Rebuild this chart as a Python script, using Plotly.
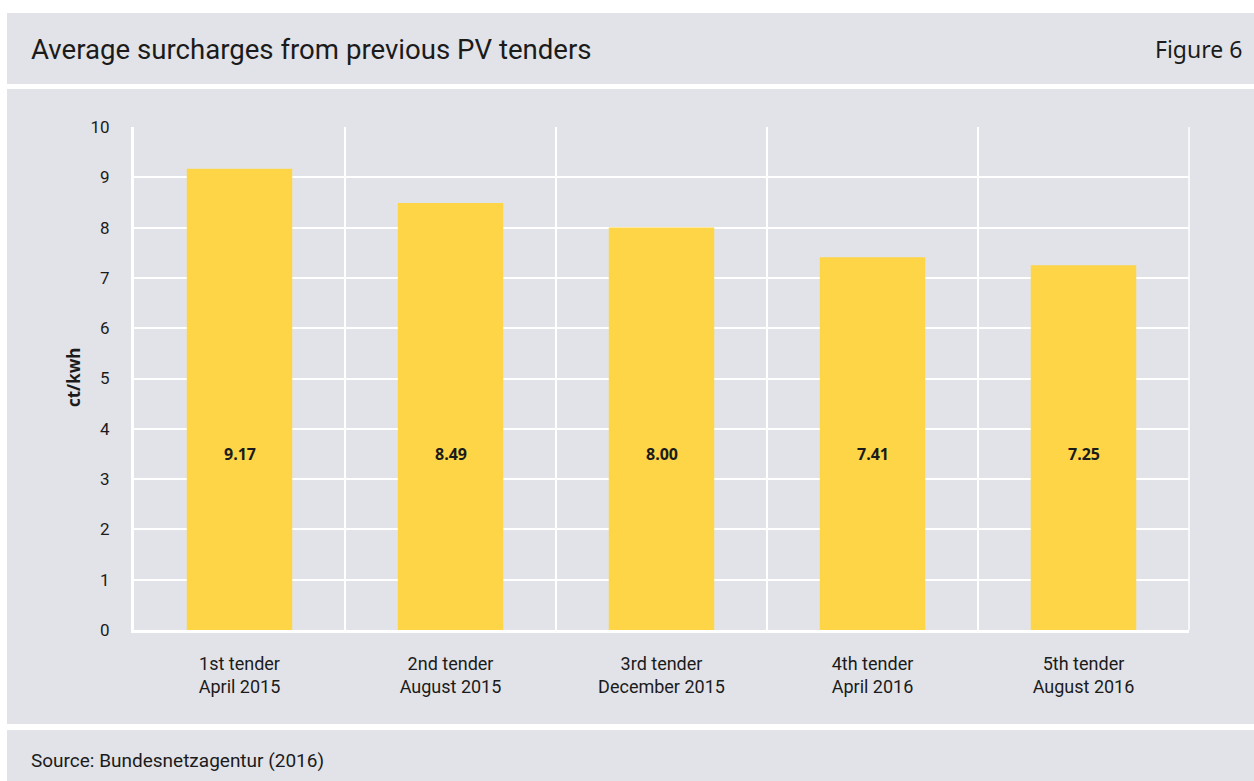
import plotly.graph_objects as go

# data
tenders = ["1st tender", "2nd tender", "3rd tender", "4th tender", "5th tender"]
dates = ["April 2015", "August 2015", "December 2015", "April 2016", "August 2016"]
surcharges = [9.17, 8.49, 8.00, 7.41, 7.25]
value_labels = ["9.17", "8.49", "8.00", "7.41", "7.25"]
y_ticks = [0, 1, 2, 3, 4, 5, 6, 7, 8, 9, 10]

W, H = 1254, 781
# plot area in pixels
L, R, T, B = 134, 1189, 127, 630
PANEL = "#e2e3e8"
BAR = "#fdd546"
TXT = "#1b1b1b"
FONT = "Roboto"
BOLD = "Open Sans"

categories = [f"{t}<br>{d}" for t, d in zip(tenders, dates)]


# pixel -> paper coordinates (paper is the plot area)
def px_x(v):
    return (v - L) / (R - L)


def px_y(v):
    return (B - v) / (B - T)


fig = go.Figure()
fig.add_trace(go.Bar(
    x=categories,
    y=surcharges,
    marker=dict(color=BAR, line=dict(width=0)),
    width=0.5,
    hoverinfo="x+y",
))

# value labels sit at a fixed height inside the bars
for c, lab in zip(categories, value_labels):
    fig.add_annotation(x=c, y=3.5, text=f"<b>{lab}</b>", showarrow=False,
                       font=dict(family=BOLD, size=16, color=TXT))

# grey background bands
bands = [(13, 84), (89, 724), (730, 790)]
shapes = []
for y0, y1 in bands:
    shapes.append(dict(type="rect", xref="paper", yref="paper",
                       x0=px_x(7), x1=px_x(W + 5), y0=px_y(y1), y1=px_y(y0),
                       fillcolor=PANEL, line=dict(width=0), layer="below"))
# right frame line of the plot area
shapes.append(dict(type="line", xref="paper", yref="paper", x0=1, x1=1, y0=0, y1=1,
                   line=dict(color="white", width=1.5), layer="below"))

annotations = [
    dict(text="Average surcharges from previous PV tenders", xref="paper", yref="paper",
         x=px_x(29), y=px_y(49), xanchor="left", yanchor="middle", showarrow=False,
         font=dict(family=FONT, size=27.6, color=TXT)),
    dict(text="Figure 6", xref="paper", yref="paper",
         x=px_x(1244), y=px_y(49), xanchor="right", yanchor="middle", showarrow=False,
         font=dict(family="Noto Sans", size=23, color=TXT)),
    dict(text="Source: Bundesnetzagentur (2016)", xref="paper", yref="paper",
         x=px_x(29), y=px_y(761), xanchor="left", yanchor="middle", showarrow=False,
         font=dict(family=FONT, size=19, color=TXT)),
    dict(text="<b>ct/kwh</b>", xref="paper", yref="paper", textangle=-90,
         x=px_x(73), y=px_y(378), xanchor="center", yanchor="middle", showarrow=False,
         font=dict(family=BOLD, size=17, color=TXT)),
]

fig.update_layout(
    width=W, height=H,
    autosize=False,
    margin=dict(l=L, r=W - R, t=T, b=H - B, pad=0),
    paper_bgcolor="white",
    plot_bgcolor="rgba(0,0,0,0)",
    showlegend=False,
    shapes=shapes,
    annotations=list(fig.layout.annotations) + annotations,
    xaxis=dict(
        type="category",
        tickson="boundaries",
        automargin=False,
        showgrid=True, gridcolor="white", gridwidth=1.5,
        showline=True, linecolor="white", linewidth=3,
        ticks="", ticklabelstandoff=15,
        tickfont=dict(family=FONT, size=18, color=TXT),
        fixedrange=True,
    ),
    yaxis=dict(
        range=[0, 10],
        tickvals=y_ticks,
        automargin=False,
        showgrid=True, gridcolor="white", gridwidth=1.5,
        showline=True, linecolor="white", linewidth=3,
        zeroline=False,
        ticks="", ticklabelstandoff=18,
        tickfont=dict(family=FONT, size=17, color=TXT),
        fixedrange=True,
    ),
)

fig.write_html("out.html", config={"displayModeBar": False},
               post_script="document.body.style.margin='0';")
